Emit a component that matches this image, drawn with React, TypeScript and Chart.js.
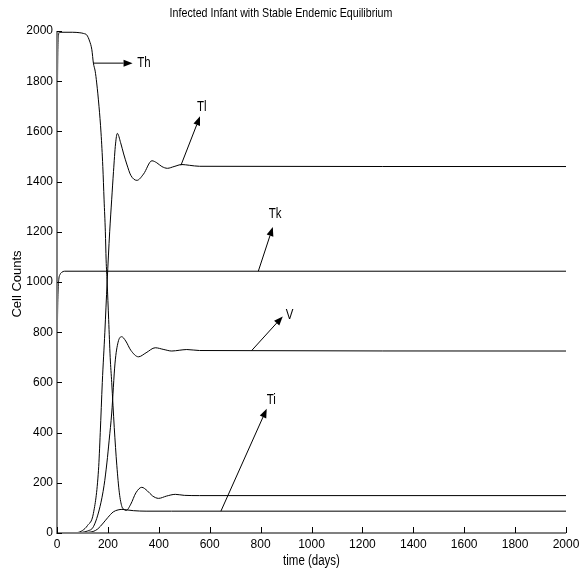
import React, { useEffect, useRef } from "react";
import { Chart, registerables } from "chart.js";

Chart.register(...registerables);

const chartTitle = "Infected Infant with Stable Endemic Equilibrium";
const xAxisTitle = "time (days)";
const yAxisTitle = "Cell Counts";
const xTickValues = [0, 200, 400, 600, 800, 1000, 1200, 1400, 1600, 1800, 2000];
const yTickValues = [0, 200, 400, 600, 800, 1000, 1200, 1400, 1600, 1800, 2000];

// Th
const thT = [0, 3, 6, 10, 60, 90, 105, 117, 128, 137, 143, 150, 156, 165, 173, 180, 185, 190, 193, 197, 203, 209, 215, 225, 235, 245, 255, 263, 272, 290, 310, 333, 355, 375, 399, 430, 465, 500, 560, 2000];
const thV = [1500, 1900, 1985, 1995, 1995, 1993, 1990, 1984, 1960, 1925, 1872, 1840, 1793, 1700, 1594, 1460, 1327, 1200, 1088, 1000, 850, 700, 600, 420, 270, 160, 105, 94, 90, 115, 160, 182, 168, 148, 138, 147, 154, 150, 149, 149];
// Tl
const tlT = [0, 80, 100, 120, 143, 163, 170, 178, 188, 197, 207, 215, 222, 230, 237, 250, 262, 274, 290, 314, 340, 373, 392, 412, 434, 460, 491, 520, 560, 2000];
const tlV = [0, 2, 10, 30, 78, 250, 400, 600, 800, 1000, 1200, 1330, 1440, 1550, 1592, 1555, 1510, 1470, 1425, 1405, 1430, 1483, 1475, 1460, 1453, 1460, 1468, 1465, 1461, 1460];
// Tk
const tkT = [0, 2, 4, 7, 12, 18, 30, 2000];
const tkV = [600, 850, 960, 1010, 1030, 1038, 1043, 1043];
// V
const vT = [0, 80, 100, 120, 143, 169, 185, 196, 205, 215, 228, 240, 254, 270, 290, 320, 350, 386, 420, 451, 480, 510, 560, 2000];
const vV = [0, 1, 3, 8, 25, 105, 190, 279, 370, 478, 677, 760, 782, 765, 728, 702, 718, 738, 731, 725, 728, 731, 727, 725];
// Ti
const tiT = [0, 90, 110, 125, 142, 160, 182, 200, 221, 240, 255, 275, 300, 350, 450, 2000];
const tiV = [0, 0, 1, 3, 6, 16, 40, 62, 84, 92, 94, 92, 89, 87, 87, 87];

// annotations (data coordinates)
const annoLabels = ["Th", "Tl", "Tk", "V", "Ti"];
const annoFromT = [142, 487, 791, 765, 644];
const annoFromV = [1872, 1465, 1043, 727, 87];
const annoToT = [297, 562, 848, 887, 824];
const annoToV = [1872, 1660, 1219, 863, 495];
const annoTextT = [315, 569, 857, 914, 842];
const annoTextV = [1872, 1697, 1272, 868, 531];
const annoAlign = ["left", "center", "center", "center", "center"];

const series = [
  { name: "Th", t: thT, v: thV },
  { name: "Tl", t: tlT, v: tlV },
  { name: "Tk", t: tkT, v: tkV },
  { name: "V", t: vT, v: vV },
  { name: "Ti", t: tiT, v: tiV },
];

const FONT = "'Liberation Sans', Arial, Helvetica, sans-serif";

function narrowText(ctx: CanvasRenderingContext2D, text: string, x: number, y: number, size: number, align: CanvasTextAlign, rot = 0, sx = 0.82) {
  ctx.save();
  ctx.translate(x, y);
  if (rot) ctx.rotate(rot);
  ctx.scale(sx, 1);
  ctx.font = `${size}px ${FONT}`;
  ctx.textAlign = align;
  ctx.textBaseline = "middle";
  ctx.fillStyle = "#000";
  ctx.fillText(text, 0, 0);
  ctx.restore();
}

const decorPlugin = {
  id: "decor",
  afterDraw(chart: any) {
    const ctx: CanvasRenderingContext2D = chart.ctx;
    const xs = chart.scales.x;
    const ys = chart.scales.y;
    const ca = chart.chartArea;
    ctx.save();
    // axis lines
    ctx.strokeStyle = "#808080";
    ctx.lineWidth = 2;
    ctx.beginPath();
    ctx.moveTo(ca.left, ca.top);
    ctx.lineTo(ca.left, ca.bottom);
    ctx.lineTo(ca.right, ca.bottom);
    ctx.stroke();
    // inward ticks
    ctx.strokeStyle = "#000";
    ctx.lineWidth = 1;
    ctx.beginPath();
    xTickValues.forEach((v) => {
      const px = Math.round(xs.getPixelForValue(v)) + 0.5;
      ctx.moveTo(px, ca.bottom);
      ctx.lineTo(px, ca.bottom - 6);
    });
    yTickValues.forEach((v) => {
      const py = Math.round(ys.getPixelForValue(v)) + 0.5;
      ctx.moveTo(ca.left, py);
      ctx.lineTo(ca.left + 5, py);
    });
    ctx.stroke();
    // arrows
    annoLabels.forEach((lab, i) => {
      const x1 = xs.getPixelForValue(annoFromT[i]);
      const y1 = ys.getPixelForValue(annoFromV[i]);
      const x2 = xs.getPixelForValue(annoToT[i]);
      const y2 = ys.getPixelForValue(annoToV[i]);
      const ang = Math.atan2(y2 - y1, x2 - x1);
      const hl = 9;
      const hw = 3.5;
      const bx = x2 - hl * Math.cos(ang);
      const by = y2 - hl * Math.sin(ang);
      ctx.strokeStyle = "#000";
      ctx.lineWidth = 1;
      ctx.beginPath();
      ctx.moveTo(x1, y1);
      ctx.lineTo(bx, by);
      ctx.stroke();
      ctx.fillStyle = "#000";
      ctx.beginPath();
      ctx.moveTo(x2, y2);
      ctx.lineTo(bx + hw * Math.sin(ang), by - hw * Math.cos(ang));
      ctx.lineTo(bx - hw * Math.sin(ang), by + hw * Math.cos(ang));
      ctx.closePath();
      ctx.fill();
      const tx = xs.getPixelForValue(annoTextT[i]);
      const ty = ys.getPixelForValue(annoTextV[i]);
      narrowText(ctx, lab, tx, ty, 14, annoAlign[i] as CanvasTextAlign);
    });
    // titles
    narrowText(ctx, chartTitle, 281, 13.5, 13, "center");
    narrowText(ctx, xAxisTitle, (ca.left + ca.right) / 2, 561, 14, "center");
    narrowText(ctx, yAxisTitle, 17, 284, 13, "center", -Math.PI / 2, 1);
    ctx.restore();
  },
};

export default function App() {
  const ref = useRef<HTMLCanvasElement>(null);
  useEffect(() => {
    if (!ref.current) return;
    const chart = new Chart(ref.current, {
      type: "line",
      data: {
        datasets: series.map((s) => ({
          label: s.name,
          data: s.t.map((t, i) => ({ x: t, y: s.v[i] })),
          borderColor: "#000",
          borderWidth: 1,
          pointRadius: 0,
          fill: false,
          cubicInterpolationMode: "monotone" as const,
        })),
      },
      options: {
        responsive: false,
        animation: false,
        layout: { padding: { top: 31, right: 13, bottom: 0, left: 0 } },
        plugins: { legend: { display: false }, title: { display: false }, tooltip: { enabled: false } },
        scales: {
          x: {
            type: "linear",
            min: 0,
            max: 2000,
            grid: { display: false, drawTicks: false, tickLength: 0 },
            border: { display: false },
            ticks: {
              stepSize: 200,
              autoSkip: false,
              maxRotation: 0,
              padding: 4,
              color: "#000",
              font: { family: FONT, size: 12 },
              callback: (v: any) => String(v),
            },
            afterFit: (s: any) => {
              s.height = 42;
              s.paddingLeft = 0;
              s.paddingRight = 0;
            },
          },
          y: {
            type: "linear",
            min: 0,
            max: 2000,
            grid: { display: false, drawTicks: false, tickLength: 0 },
            border: { display: false },
            ticks: {
              stepSize: 200,
              autoSkip: false,
              padding: 4,
              color: "#000",
              font: { family: FONT, size: 12 },
              callback: (v: any) => String(v),
            },
            afterFit: (s: any) => {
              s.width = 57;
              s.paddingTop = 0;
              s.paddingBottom = 0;
            },
          },
        },
      },
      plugins: [decorPlugin],
    });
    return () => chart.destroy();
  }, []);
  return (
    <div style={{ position: "fixed", left: 0, top: 0, width: 579, height: 575, background: "#fff" }}>
      <canvas ref={ref} width={579} height={575} style={{ display: "block" }} />
    </div>
  );
}
